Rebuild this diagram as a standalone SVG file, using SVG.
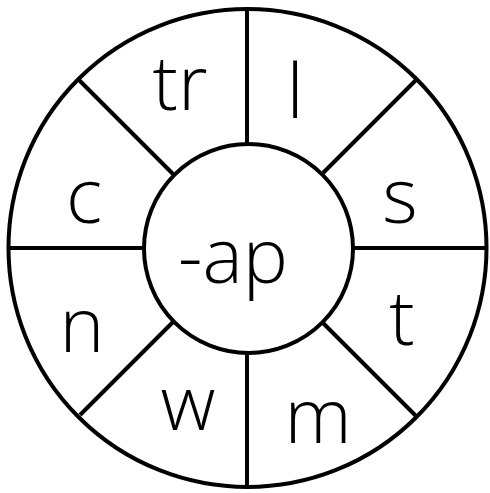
<svg xmlns="http://www.w3.org/2000/svg" width="490" height="493" viewBox="0 0 490 493">
<style>
.ring{fill:none;stroke:#000;stroke-width:4}
.spoke{stroke:#000;stroke-width:4;stroke-linecap:butt}
.lbl{font-family:"Open Sans","DejaVu Sans",sans-serif;font-weight:300;font-size:76px;fill:#000;text-anchor:middle}
</style>
<rect width="490" height="493" fill="#fff"/>
<g id="outer-wheel"><circle class="ring" cx="247.5" cy="248" r="239"/></g>
<g id="connectors">
<line class="spoke" x1="247" y1="10" x2="247" y2="143"/>
<line class="spoke" x1="247" y1="353" x2="247" y2="487"/>
<line class="spoke" x1="9" y1="248" x2="143" y2="248"/>
<line class="spoke" x1="353" y1="248" x2="486" y2="248"/>
<line class="spoke" x1="79" y1="80" x2="173" y2="174"/>
<line class="spoke" x1="416" y1="80" x2="323" y2="173"/>
<line class="spoke" x1="80" y1="415" x2="173" y2="322"/>
<line class="spoke" x1="416" y1="416" x2="323" y2="323"/>
</g>
<g id="center"><circle class="ring" cx="248.5" cy="248.5" r="104.5" fill="#fff"/><text class="lbl" x="233" y="283">-ap</text></g>
<g id="seg-tr"><text class="lbl" x="180" y="110">tr</text></g>
<g id="seg-l"><text class="lbl" x="295" y="118">l</text></g>
<g id="seg-c"><text class="lbl" x="84" y="223">c</text></g>
<g id="seg-s"><text class="lbl" x="400" y="223">s</text></g>
<g id="seg-n"><text class="lbl" x="82" y="352">n</text></g>
<g id="seg-t"><text class="lbl" x="402" y="345">t</text></g>
<g id="seg-w"><text class="lbl" x="188" y="430">w</text></g>
<g id="seg-m"><text class="lbl" x="318" y="443">m</text></g>
</svg>
